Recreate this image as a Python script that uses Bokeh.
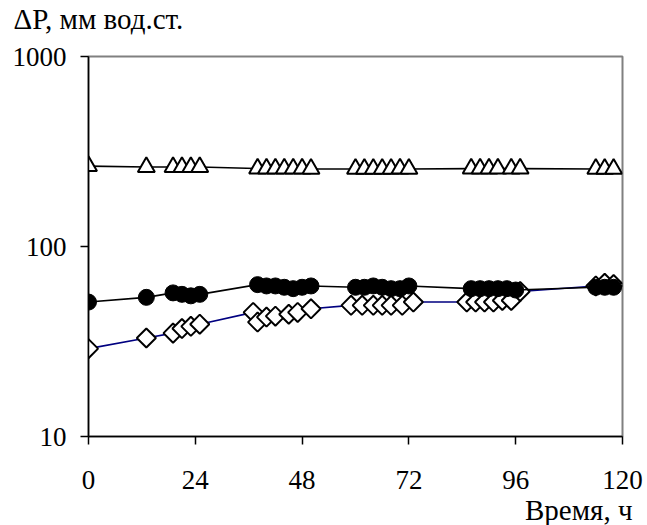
import math
from bokeh.plotting import figure
from bokeh.models import Range1d, FixedTicker, PrintfTickFormatter, Title
from bokeh.embed import file_html
from bokeh.resources import INLINE

# ---- data ----
t_tri = [0, 13, 19, 21, 23, 25, 38, 40, 42, 44, 46, 48, 50, 60, 62, 64, 66, 68, 70, 72,
         86, 88, 90, 92, 95, 97, 114, 116, 118]
v_tri = [265, 262, 262, 262, 262, 262, 257, 257, 257, 257, 257, 257, 256, 256, 256, 256, 256, 256, 257, 256,
         257, 257, 257, 257, 257, 257, 256, 256, 256]

t_circ = [0, 13, 19, 21, 23, 25, 38, 40, 42, 44, 46, 48, 50, 60, 62, 64, 66, 68, 70, 72,
          86, 88, 90, 92, 94, 96, 114, 116, 118]
v_circ = [51, 54, 57, 56, 55, 56, 63, 62, 62, 61, 60, 61, 62, 61, 61, 62, 61, 60, 60, 62,
          60, 60, 60, 60, 60, 59, 61, 61, 61]

t_dia = [0, 13, 19, 21, 23, 25, 37, 38, 40, 42, 45, 47, 50, 59, 61.5, 64, 66, 68, 70.5, 73,
         85, 87, 89, 91, 93, 95, 97, 114, 116, 118]
v_dia = [29, 33, 35, 37, 38, 39, 45, 40, 42.5, 43, 44, 45, 47, 49, 49, 49, 49, 49, 49, 51,
         51, 51, 51, 51, 52, 52, 58, 62, 64, 63]

x_ticks = [0, 24, 48, 72, 96, 120]
y_ticks = [10, 100, 1000]
y_title = "ΔP, мм вод.ст."
x_title = "Время, ч"

FONT = "Liberation Serif"

p = figure(width=647, height=525, output_backend="svg", toolbar_location=None,
           y_axis_type="log", x_range=Range1d(0, 120), y_range=Range1d(10, 1000),
           min_border_left=88, min_border_right=25, min_border_top=56, min_border_bottom=89)

p.background_fill_color = "white"
p.border_fill_color = "white"
p.outline_line_color = "#808080"
p.outline_line_width = 2
p.xgrid.visible = False
p.ygrid.visible = False

for ax in (p.xaxis[0], p.yaxis[0]):
    ax.axis_line_color = "black"
    ax.axis_line_width = 1.5
    ax.major_tick_line_color = "black"
    ax.major_tick_line_width = 1.5
    ax.major_tick_in = 0
    ax.major_tick_out = 8
    ax.minor_tick_line_color = None
    ax.major_label_text_font = FONT
    ax.major_label_text_font_size = "27px"
    ax.major_label_text_color = "black"

p.xaxis.ticker = FixedTicker(ticks=x_ticks)
p.yaxis.ticker = FixedTicker(ticks=y_ticks)
p.yaxis.formatter = PrintfTickFormatter(format="%d")
p.xaxis.major_label_standoff = 26
p.yaxis.major_label_standoff = 14

# diamonds (navy line)
p.line(t_dia, v_dia, line_color="#000080", line_width=1.6)
p.scatter(t_dia, v_dia, marker="square", angle=math.pi / 4, size=13.5,
          fill_color="white", line_color="black", line_width=2)

# circles
p.line(t_circ, v_circ, line_color="black", line_width=1.6)
p.scatter(t_circ, v_circ, marker="circle", size=16,
          fill_color="black", line_color="black", line_width=1)

# triangles
p.line(t_tri, v_tri, line_color="black", line_width=1.6)
p.scatter(t_tri, v_tri, marker="triangle", size=17,
          fill_color="white", line_color="black", line_width=2)

# small spacer directly above the frame, then the y-quantity caption above it
p.add_layout(Title(text=" ", text_font_size="1px", standoff=18.5), "above")
p.add_layout(Title(text=y_title, align="left", offset=-75, text_font=FONT,
                   text_font_size="29px", text_font_style="normal", text_color="black",
                   standoff=0), "above")

p.add_layout(Title(text=x_title, align="right", offset=-10, text_font=FONT,
                   text_font_size="29px", text_font_style="normal", text_color="black",
                   standoff=0), "below")

open("out.html", "w").write(file_html(p, INLINE))
